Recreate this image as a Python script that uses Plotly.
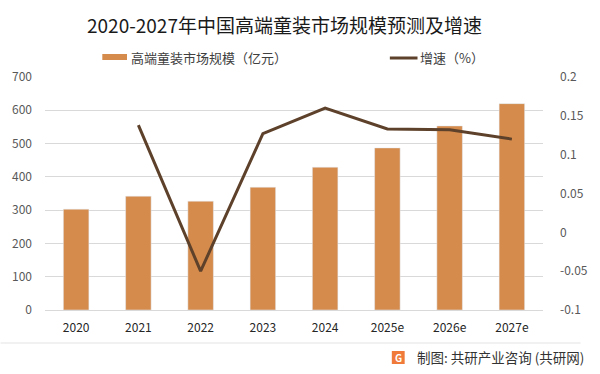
import plotly.graph_objects as go

categories = ["2020", "2021", "2022", "2023", "2024", "2025e", "2026e", "2027e"]
market_size = [303, 342, 327, 369, 429, 487, 553, 620]
growth = [None, 0.138, -0.050, 0.127, 0.160, 0.133, 0.132, 0.120]
right_ticks = [-0.1, -0.05, 0, 0.05, 0.1, 0.15, 0.2]
right_tick_text = ["-0.1", "-0.05", "0", "0.05", "0.1", "0.15", "0.2"]

BAR = "#D48B4C"
LINE = "#5E412A"
FONT = "Noto Sans CJK SC"

W, H = 600, 374
L, R, T, B = 45, 51, 77, 64
PW, PH = W - L - R, H - T - B

def px(x):
    return (x - L) / PW

def py(y):
    return (H - B - y) / PH

fig = go.Figure()
fig.add_trace(go.Bar(x=categories, y=market_size, marker_color=BAR, width=0.41,
                     name="高端童装市场规模（亿元）", showlegend=False))
fig.add_trace(go.Scatter(x=categories, y=growth, yaxis="y2", mode="lines",
                         line=dict(color=LINE, width=3), name="增速（%）",
                         showlegend=False))

fig.update_layout(
    width=W, height=H,
    margin=dict(l=L, r=R, t=T, b=B),
    paper_bgcolor="white", plot_bgcolor="white",
    font=dict(family=FONT, color="#595959", size=12),
    xaxis=dict(showgrid=False, showline=True, linecolor="#D9D9D9", linewidth=1,
               ticks="", tickfont=dict(size=12, color="#262626"), ticklabelstandoff=7),
    yaxis=dict(range=[0, 700], dtick=100, showgrid=True, gridcolor="#D9D9D9",
               gridwidth=1, zeroline=False, ticks="", ticklabelstandoff=12,
               tickfont=dict(size=12, color="#595959")),
    yaxis2=dict(range=[-0.1, 0.2], overlaying="y", side="right", showgrid=False,
                zeroline=False, tickvals=right_ticks, ticktext=right_tick_text,
                ticks="", ticklabelstandoff=16, tickfont=dict(size=12, color="#595959")),
)

annotations = [
    dict(text="2020-2027年中国高端童装市场规模预测及增速", x=px(287), y=py(25),
         xref="paper", yref="paper", showarrow=False, xanchor="center", yanchor="middle",
         font=dict(size=19, color="#1A1A1A", family=FONT)),
    dict(text="高端童装市场规模（亿元）", x=px(130), y=py(58), xref="paper", yref="paper",
         showarrow=False, xanchor="left", yanchor="middle",
         font=dict(size=13, color="#404040", family=FONT)),
    dict(text="增速（%）", x=px(422), y=py(58), xref="paper", yref="paper",
         showarrow=False, xanchor="left", yanchor="middle",
         font=dict(size=13, color="#404040", family=FONT)),
    dict(text="制图: 共研产业咨询 (共研网)", x=px(593), y=py(357), xref="paper", yref="paper",
         showarrow=False, xanchor="right", yanchor="middle",
         font=dict(size=13.5, color="#333333", family=FONT)),
    dict(text="<b>G</b>", x=px(402.5), y=py(357.5), xref="paper", yref="paper",
         showarrow=False, xanchor="center", yanchor="middle",
         font=dict(size=10, color="white", family=FONT)),
]

shapes = [
    dict(type="rect", xref="paper", yref="paper", x0=px(103), x1=px(128),
         y0=py(60), y1=py(54), fillcolor=BAR, line=dict(width=0)),
    dict(type="line", xref="paper", yref="paper", x0=px(394), x1=px(422),
         y0=py(58), y1=py(58), line=dict(color=LINE, width=3)),
    dict(type="line", xref="paper", yref="paper", x0=px(0), x1=px(587),
         y0=py(343), y1=py(343), line=dict(color="#E3E3E3", width=1)),
    dict(type="rect", xref="paper", yref="paper", x0=px(396), x1=px(409),
         y0=py(364), y1=py(351), fillcolor="#F07A3A", line=dict(width=0)),
]

fig.update_layout(annotations=annotations, shapes=shapes)
fig.write_html("out.html", config={"displayModeBar": False},
               post_script="document.body.style.margin='0';document.body.style.padding='0';")
